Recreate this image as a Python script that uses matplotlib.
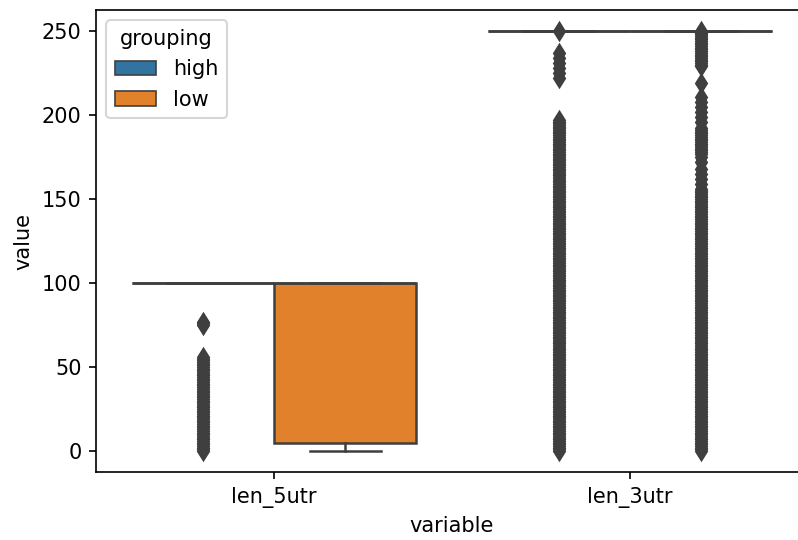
import numpy as np
import matplotlib
matplotlib.use("Agg")
import matplotlib.pyplot as plt
from matplotlib.patches import Patch

# categories and hue levels
variables = ["len_5utr", "len_3utr"]
groups = ["high", "low"]
colors = ["#3274a1", "#e1812c"]

# box statistics per (variable, group): q1, median, q3, whisker low, whisker high
q1 = {("len_5utr", "high"): 100, ("len_5utr", "low"): 5,
      ("len_3utr", "high"): 250, ("len_3utr", "low"): 250}
med = {("len_5utr", "high"): 100, ("len_5utr", "low"): 100,
       ("len_3utr", "high"): 250, ("len_3utr", "low"): 250}
q3 = {("len_5utr", "high"): 100, ("len_5utr", "low"): 100,
      ("len_3utr", "high"): 250, ("len_3utr", "low"): 250}
whislo = {("len_5utr", "high"): 100, ("len_5utr", "low"): 0,
          ("len_3utr", "high"): 250, ("len_3utr", "low"): 250}
whishi = {("len_5utr", "high"): 100, ("len_5utr", "low"): 100,
          ("len_3utr", "high"): 250, ("len_3utr", "low"): 250}

# outlier lengths: contiguous integer runs plus isolated values
flier_runs = {("len_5utr", "high"): [(0, 56)],
              ("len_5utr", "low"): [],
              ("len_3utr", "high"): [(0, 197)],
              ("len_3utr", "low"): [(0, 156), (177, 192), (229, 250)]}
flier_singles = {("len_5utr", "high"): [75, 76, 77],
                 ("len_5utr", "low"): [],
                 ("len_3utr", "high"): [222, 225, 228, 231, 234, 237, 250],
                 ("len_3utr", "low"): [159, 162, 165, 168, 172, 175,
                                       196, 199, 202, 205, 208, 211, 219]}


def fliers(key):
    vals = [np.arange(lo, hi + 1) for lo, hi in flier_runs[key]]
    vals.append(np.array(flier_singles[key]))
    return np.concatenate(vals)


gray = "#3f3f3f"
dpi = 150
fig = plt.figure(figsize=(798 / dpi, 540 / dpi), dpi=dpi)
ax = fig.add_axes([96 / 798, 1 - 472 / 540, 712 / 798, 462 / 540])

width = 0.8 / len(groups)
offsets = [-0.2, 0.2]
for i, var in enumerate(variables):
    for j, grp in enumerate(groups):
        key = (var, grp)
        stats = [dict(q1=q1[key], med=med[key], q3=q3[key],
                      whislo=whislo[key], whishi=whishi[key],
                      fliers=fliers(key))]
        ax.bxp(stats, positions=[i + offsets[j]], widths=width,
               patch_artist=True, manage_ticks=False,
               boxprops=dict(facecolor=colors[j], edgecolor=gray, linewidth=1.2),
               medianprops=dict(color=gray, linewidth=1.2),
               whiskerprops=dict(color=gray, linewidth=1.2),
               capprops=dict(color=gray, linewidth=1.2),
               flierprops=dict(marker="d", markersize=5.5, markeredgewidth=1.4,
                               markerfacecolor=gray, markeredgecolor=gray,
                               linestyle="none"))

ax.set_xticks(range(len(variables)))
ax.set_xticklabels(variables)
ax.set_xlim(-0.5, len(variables) - 0.5)
ax.set_ylim(-12.5, 262.5)
ax.set_xlabel("variable")
ax.set_ylabel("value")

handles = [Patch(facecolor=c, edgecolor=gray, linewidth=0.8, label=g)
           for g, c in zip(groups, colors)]
ax.legend(handles=handles, title="grouping", loc="upper left")

fig.savefig("out.png", dpi=dpi)
